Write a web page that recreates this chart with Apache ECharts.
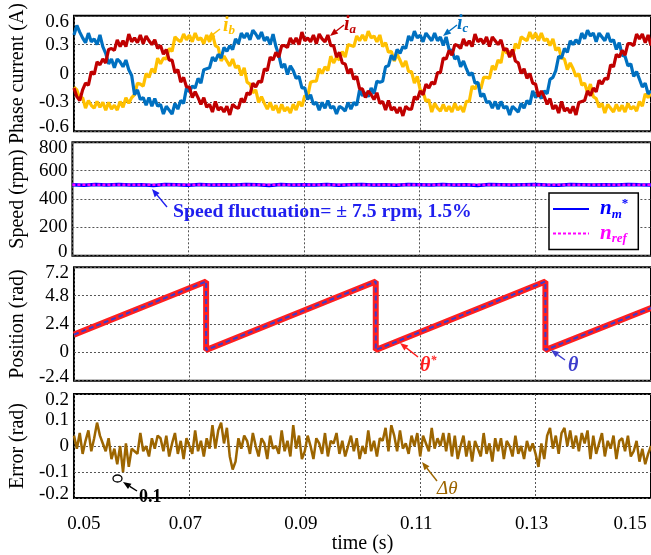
<!DOCTYPE html>
<html><head><meta charset="utf-8">
<script src="https://cdn.jsdelivr.net/npm/echarts@6/dist/echarts.min.js"></script>
<style>html,body{margin:0;padding:0;background:#fff}#c{width:651px;height:555px}</style>
</head><body><div id="c"></div>
<script>
// ---- sampling of the scope traces ----
const t0 = 0.05, dt = 0.0005;   // phase currents & error: one sample every 0.5 ms
const speedT0 = 0.05, speedDt = 0.002;

// ---- phase currents (A) ----
const ia = [
-0.15,-0.24,-0.28,-0.17,-0.10,-0.12,0.02,-0.01,0.12,0.09,
0.15,0.11,0.25,0.26,0.24,0.35,0.28,0.34,0.28,0.41,
0.33,0.37,0.32,0.40,0.31,0.39,0.34,0.30,0.35,0.26,
0.29,0.20,0.25,0.14,0.14,0.01,0.04,-0.09,-0.04,-0.14,
-0.14,-0.25,-0.19,-0.25,-0.32,-0.25,-0.35,-0.32,-0.40,-0.29,
-0.38,-0.35,-0.40,-0.34,-0.43,-0.32,-0.35,-0.36,-0.26,-0.30,
-0.20,-0.22,-0.10,-0.14,-0.08,-0.09,0.05,0.03,0.17,0.14,
0.22,0.17,0.29,0.29,0.27,0.37,0.31,0.37,0.30,0.43,
0.34,0.37,0.33,0.40,0.31,0.41,0.36,0.33,0.40,0.29,
0.29,0.17,0.22,0.11,0.10,0.00,0.05,-0.06,-0.03,-0.16,
-0.16,-0.25,-0.18,-0.22,-0.27,-0.20,-0.31,-0.29,-0.38,-0.28,
-0.38,-0.35,-0.41,-0.35,-0.44,-0.34,-0.37,-0.37,-0.24,-0.27,
-0.18,-0.22,-0.11,-0.15,-0.09,-0.11,0.01,0.01,0.16,0.15,
0.24,0.19,0.30,0.29,0.26,0.36,0.29,0.34,0.28,0.41,
0.33,0.36,0.31,0.38,0.28,0.38,0.34,0.30,0.35,0.24,
0.26,0.17,0.25,0.13,0.11,0.00,0.05,-0.05,0.00,-0.10,
-0.11,-0.24,-0.18,-0.24,-0.32,-0.26,-0.37,-0.33,-0.41,-0.29,
-0.39,-0.36,-0.41,-0.34,-0.43,-0.30,-0.29,-0.28,-0.18,-0.23,
-0.15,-0.19,-0.07,-0.11,-0.05,-0.06,0.09,0.07,0.20,0.17,
0.24,0.19,0.31,0.31,0.29,0.41,0.36,0.41,0.32,0.40,
0.29];
const ib = [
-0.14,-0.17,-0.26,-0.25,-0.36,-0.28,-0.33,-0.36,-0.29,-0.35,
-0.30,-0.38,-0.30,-0.37,-0.33,-0.38,-0.29,-0.35,-0.25,-0.31,
-0.25,-0.22,-0.10,-0.11,-0.13,0.00,-0.04,0.05,0.01,0.16,
0.10,0.16,0.15,0.26,0.23,0.38,0.35,0.33,0.41,0.35,
0.40,0.33,0.42,0.35,0.37,0.31,0.40,0.33,0.41,0.29,
0.27,0.13,0.18,0.13,0.08,0.15,0.06,0.08,-0.02,0.06,
-0.09,-0.11,-0.20,-0.17,-0.30,-0.24,-0.31,-0.37,-0.30,-0.38,
-0.33,-0.41,-0.32,-0.39,-0.35,-0.41,-0.32,-0.38,-0.29,-0.34,
-0.23,-0.24,-0.09,-0.08,-0.08,0.05,0.00,0.07,0.03,0.18,
0.11,0.17,0.14,0.23,0.17,0.30,0.29,0.28,0.39,0.34,
0.40,0.34,0.44,0.37,0.39,0.33,0.40,0.28,0.32,0.22,
0.23,0.13,0.20,0.14,0.07,0.13,0.02,0.02,-0.10,-0.03,
-0.17,-0.19,-0.29,-0.27,-0.40,-0.31,-0.36,-0.39,-0.32,-0.39,
-0.34,-0.40,-0.31,-0.38,-0.34,-0.40,-0.29,-0.29,-0.13,-0.16,
-0.10,-0.16,-0.04,-0.04,-0.05,0.08,0.04,0.14,0.11,0.27,
0.21,0.23,0.18,0.31,0.26,0.38,0.36,0.34,0.43,0.36,
0.42,0.34,0.42,0.34,0.36,0.29,0.36,0.24,0.27,0.16,
0.15,0.04,0.11,0.05,-0.03,0.00,-0.12,-0.10,-0.20,-0.11,
-0.24,-0.26,-0.35,-0.31,-0.41,-0.32,-0.36,-0.40,-0.32,-0.39,
-0.33,-0.40,-0.31,-0.37,-0.34,-0.39,-0.29,-0.34,-0.21,-0.25,
-0.20];
const ic = [
0.40,0.50,0.43,0.37,0.32,0.42,0.33,0.36,0.30,0.40,
0.28,0.21,0.10,0.15,0.06,0.15,0.12,0.07,0.14,0.04,
-0.02,-0.22,-0.17,-0.27,-0.25,-0.33,-0.25,-0.34,-0.26,-0.34,
-0.32,-0.42,-0.34,-0.38,-0.42,-0.31,-0.37,-0.28,-0.31,-0.15,
-0.19,-0.13,-0.15,-0.05,-0.10,0.04,0.05,0.06,0.17,0.13,
0.20,0.16,0.27,0.23,0.29,0.25,0.36,0.31,0.42,0.37,
0.42,0.35,0.45,0.41,0.36,0.43,0.34,0.38,0.30,0.41,
0.28,0.19,0.06,0.10,-0.01,0.08,0.03,-0.05,-0.03,-0.15,
-0.15,-0.27,-0.22,-0.32,-0.30,-0.38,-0.30,-0.36,-0.28,-0.36,
-0.34,-0.42,-0.34,-0.36,-0.39,-0.30,-0.37,-0.30,-0.33,-0.17,
-0.23,-0.20,-0.24,-0.15,-0.21,-0.08,-0.09,-0.08,0.07,0.08,
0.19,0.14,0.25,0.21,0.28,0.26,0.39,0.34,0.44,0.37,
0.40,0.33,0.42,0.38,0.34,0.42,0.34,0.38,0.29,0.38,
0.25,0.24,0.15,0.18,0.07,0.13,0.05,-0.02,0.01,-0.10,
-0.09,-0.24,-0.21,-0.30,-0.29,-0.36,-0.29,-0.37,-0.29,-0.36,
-0.34,-0.43,-0.34,-0.37,-0.40,-0.31,-0.36,-0.28,-0.32,-0.18,
-0.25,-0.21,-0.26,-0.18,-0.21,-0.06,-0.04,0.03,0.18,0.16,
0.26,0.22,0.34,0.30,0.35,0.31,0.42,0.36,0.45,0.39,
0.42,0.33,0.42,0.38,0.34,0.42,0.33,0.35,0.25,0.32,
0.19,0.18,0.08,0.10,-0.03,0.02,-0.06,-0.14,-0.10,-0.21,
-0.18];

// ---- speed (rpm) ----
const speedNm = [500,497,502,499,503,498,501,496,502,500,497,503,499,501,498,502,500,496,503,499,
501,498,502,497,500,503,499,501,497,502,500,498,503,499,501,496,502,500,498,501,
503,499,497,502,500,498,501,499,503,500,498];
const speedRefT = [0.05, 0.15];
const speedRef = [500, 500];

// ---- position (rad): [time, value] breakpoints of the sawtooth ----
const thetaRefPts = [[0.05,1.5],[0.0729,6.0],[0.0729,0.2],[0.1023,6.0],[0.1023,0.2],[0.1317,6.0],[0.1317,0.2],[0.15,3.75]];
const thetaPts    = [[0.05,1.5],[0.0729,6.0],[0.0729,0.2],[0.1023,6.0],[0.1023,0.2],[0.1317,6.0],[0.1317,0.2],[0.15,3.75]];

// ---- position error (rad) ----
const thetaErr = [
0.04,-0.01,0.05,-0.03,0.02,0.06,-0.02,0.03,0.09,0.04,
0.01,-0.02,0.03,-0.05,-0.01,-0.07,0.00,-0.10,0.01,-0.08,
-0.01,-0.02,-0.03,0.05,-0.02,0.00,-0.04,0.03,-0.01,0.04,
0.03,-0.02,0.04,-0.04,0.01,0.05,-0.03,0.02,-0.05,0.03,
0.00,-0.03,0.06,-0.02,0.02,-0.04,0.03,-0.01,0.08,-0.01,
0.06,0.09,0.01,0.07,-0.04,-0.09,-0.06,0.03,-0.01,0.04,
0.02,-0.03,0.05,0.00,-0.04,0.03,0.01,-0.05,0.04,-0.01,
0.00,-0.03,0.06,-0.02,0.02,-0.04,0.08,-0.01,0.04,-0.05,
-0.02,0.04,0.00,-0.05,0.03,0.01,-0.03,0.05,-0.04,0.02,
0.01,0.05,-0.03,0.02,-0.04,0.00,0.04,-0.02,0.03,-0.05,
0.00,-0.03,0.06,-0.02,0.02,-0.04,0.03,0.02,0.07,-0.02,
0.08,0.04,-0.02,0.06,-0.01,0.01,-0.03,0.04,0.00,0.05,
-0.04,0.04,0.01,-0.02,0.07,-0.01,0.03,0.00,0.05,-0.02,
0.05,-0.04,0.04,-0.05,0.00,0.04,-0.04,0.02,-0.06,0.02,
-0.01,-0.04,0.05,-0.03,0.01,-0.06,0.03,-0.02,0.03,-0.05,
0.02,0.00,-0.04,0.04,-0.03,0.00,-0.05,0.02,-0.02,0.01,
-0.03,-0.08,0.01,-0.05,0.04,0.07,-0.01,0.04,-0.03,0.05,
0.07,0.00,0.06,-0.01,0.04,-0.02,0.05,0.01,0.06,-0.05,
0.04,-0.03,0.01,0.05,-0.04,0.02,-0.01,0.04,-0.05,0.02,
0.03,-0.02,0.04,-0.04,-0.02,0.02,-0.06,-0.01,-0.07,-0.03,
0.00];

// ---- axes ----
const yAxesDef = [
  {name:'Phase current (A)', min:-0.6, max:0.6, interval:0.3},
  {name:'Speed (rpm)', min:0, max:800, interval:200},
  {name:'Position (rad)', min:-2.4, max:7.2, interval:2.4},
  {name:'Error (rad)', min:-0.2, max:0.2, interval:0.1}
];
const xTicks = {min:0.05, max:0.15, interval:0.02};

const FONT = '"Liberation Serif","Times New Roman",serif';
const pair = (arr, s0, ds) => arr.map((v,i)=>[+(s0+i*ds).toFixed(5), v]);

const gridPos = [{top:15.3,height:116},{top:142.3,height:113.4},{top:267.3,height:113.4},{top:394,height:113.3}];
const grids = gridPos.map(g=>Object.assign({left:67,right:0,show:true,borderColor:'#000',borderWidth:2,backgroundColor:'#fff'},g));
const splitLine = {show:true,lineStyle:{color:'#555',type:[2,2],width:1}};

const lblBase = {fontFamily:FONT,fontSize:19,color:'#000'};
const xLabelRich = {
  first:Object.assign({padding:[0,0,0,20]},lblBase),
  last:Object.assign({padding:[0,42,0,0]},lblBase),
  mid:Object.assign({padding:[0,8,0,0]},lblBase)
};
const xAxes = [0,1,2,3].map(i=>({
  type:'value', gridIndex:i, min:xTicks.min, max:xTicks.max, interval:xTicks.interval,
  axisLine:{show:false}, axisTick:{show:false}, splitLine,
  axisLabel: i<3 ? {show:false} : Object.assign({margin:16, rich:xLabelRich,
     formatter:v=>{const s=v.toFixed(2); const k = Math.abs(v-xTicks.min)<1e-6?'first':(Math.abs(v-xTicks.max)<1e-6?'last':'mid'); return '{'+k+'|'+s+'}';}}, lblBase),
  name: i===3 ? 'time (s)' : '', nameLocation:'middle', nameGap:33,
  nameTextStyle:{fontFamily:FONT,fontSize:20,color:'#000'}
}));
const yLabelRich = {
  top:Object.assign({padding:[12,0,0,0]},lblBase),
  bot:Object.assign({padding:[0,0,8,0]},lblBase),
  mid:Object.assign({},lblBase)
};
const yAxes = yAxesDef.map((d,i)=>({
  type:'value', gridIndex:i, min:d.min, max:d.max, interval:d.interval,
  axisLine:{show:false}, axisTick:{show:false}, splitLine,
  axisLabel:Object.assign({margin:5, rich:yLabelRich, formatter:v=>{
     const s=String(Math.round(v*100)/100);
     const k = Math.abs(v-d.max)<1e-6?'top':(Math.abs(v-d.min)<1e-6?'bot':'mid');
     return '{'+k+'|'+s+'}';}}, lblBase),
  name:d.name, nameLocation:'middle', nameGap:40,
  nameTextStyle:{fontFamily:FONT,fontSize:20,color:'#000'}
}));

const line = (name, gi, data, color, width, extra) => Object.assign({
  name, type:'line', xAxisIndex:gi, yAxisIndex:gi, data, showSymbol:false, symbol:'none',
  animation:false, silent:true, lineStyle:{color, width}, itemStyle:{color}
}, extra||{});

const series = [
  line('ib',0,pair(ib,t0,dt),'#FFC000',3.2),
  line('ic',0,pair(ic,t0,dt),'#0070C0',3.2),
  line('ia',0,pair(ia,t0,dt),'#C00000',3.2),
  line('nm',1,pair(speedNm,speedT0,speedDt),'#0000FF',3.5),
  line('nref',1,speedRefT.map((t,i)=>[t,speedRef[i]]),'#FF00FF',2.5,{lineStyle:{color:'#FF00FF',width:2.5,type:[3,2]}}),
  line('thetaRef',2,thetaRefPts,'#FF1F1F',6),
  line('theta',2,thetaPts,'#3D3DCC',2,{lineStyle:{color:'#3D3DCC',width:2,type:[5,3]}}),
  line('err',3,pair(thetaErr,t0,dt),'#9C6500',2.5)
];

// ---- annotations ----
function arrow(x1,y1,x2,y2,c,w,L,W){
  w=w||1.4; L=L||8; W=W||3.2;
  const a=Math.atan2(y2-y1,x2-x1), bx=x2-L*Math.cos(a), by=y2-L*Math.sin(a);
  const px=-Math.sin(a)*W, py=Math.cos(a)*W;
  return [{type:'line',z:100,shape:{x1,y1,x2:bx,y2:by},style:{stroke:c,lineWidth:w}},
          {type:'polygon',z:100,shape:{points:[[x2,y2],[bx+px,by+py],[bx-px,by-py]]},style:{fill:c}}];
}
const tok = (c,size,extra) => Object.assign({fill:c,fontFamily:FONT,fontSize:size,fontWeight:'bold',fontStyle:'italic'},extra||{});
function txt(x,y,text,rich){ return {type:'text',x,y,z:101,style:{text,rich,align:'left',verticalAlign:'middle'}}; }
function sub(c,main,s){ return {m:tok(c,main,{lineHeight:main+2}), s:tok(c,s,{verticalAlign:'bottom'}), u:tok(c,s,{verticalAlign:'top'})}; }

const graphic = [].concat(
  arrow(220,29,207,39,'#FFC000'), [txt(223,26,'{m|i}{s|b}',sub('#FFC000',20,13))],
  arrow(344,25,330,36,'#C00000'), [txt(344,25,'{m|i}{s|a}',sub('#C00000',20,13))],
  arrow(457,25,443,36,'#0070C0'), [txt(457,24,'{m|i}{s|c}',sub('#0070C0',20,13))],
  arrow(167,207,152,189,'#1F1FEF'),
  [{type:'text',x:173,y:212,z:101,style:{text:'Speed fluctuation= \u00B1 7.5 rpm, 1.5%',fill:'#1F1FEF',
     font:'bold 19.7px '+FONT,align:'left',verticalAlign:'middle'}}],
  arrow(418,357,400,343,'#FF1F1F'), [txt(420,366,'{m|\u03B8}{u|*}',sub('#FF1F1F',20,12))],
  arrow(565,360,551,350,'#3D3DCC'), [txt(568,366,'{m|\u03B8}',sub('#3D3DCC',20,12))],
  [{type:'ellipse',z:100,shape:{cx:117.5,cy:478.5,rx:4.5,ry:3.5},style:{fill:'none',stroke:'#000',lineWidth:1.3}}],
  arrow(137,491,123,482,'#000'),
  [{type:'text',x:139,y:497,z:101,style:{text:'0.1',fill:'#000',font:'bold 18px '+FONT,align:'left',verticalAlign:'middle'}}],
  arrow(437,481,422,462,'#9C6500'),
  [{type:'text',x:437,y:489,z:101,style:{text:'\u0394\u03B8',fill:'#9C6500',font:'italic 19px '+FONT,align:'left',verticalAlign:'middle'}}]
);

const richLeg = {
  a:{fontFamily:FONT,fontSize:21,fontWeight:'bold',fontStyle:'italic',color:'#0000FF',lineHeight:24,padding:[0,0,0,6]},
  b:{fontFamily:FONT,fontSize:13,fontWeight:'bold',fontStyle:'italic',color:'#0000FF',verticalAlign:'bottom'},
  c:{fontFamily:FONT,fontSize:13,fontWeight:'bold',color:'#0000FF',verticalAlign:'top'},
  d:{fontFamily:FONT,fontSize:21,fontWeight:'bold',fontStyle:'italic',color:'#FF00FF',lineHeight:24,padding:[0,0,0,6]},
  e:{fontFamily:FONT,fontSize:13,fontWeight:'bold',fontStyle:'italic',color:'#FF00FF',verticalAlign:'bottom'}
};

const chart = echarts.init(document.getElementById('c'), null, {renderer:'canvas'});
chart.setOption({
  animation:false,
  backgroundColor:'#fff',
  grid:grids, xAxis:xAxes, yAxis:yAxes, series,
  legend:{show:true, data:['nm','nref'], orient:'vertical', left:549, top:193,
    padding:[4,10,4,3], itemGap:2, itemWidth:36, itemHeight:12,
    itemStyle:{opacity:0},
    backgroundColor:'#fff', borderColor:'#000', borderWidth:1.5, borderRadius:0, selectedMode:false,
    formatter:n=> n==='nm' ? '{a|n}{b|m}{c|*}' : '{d|n}{e|ref}',
    textStyle:{rich:richLeg}},
  graphic
});
</script></body></html>
